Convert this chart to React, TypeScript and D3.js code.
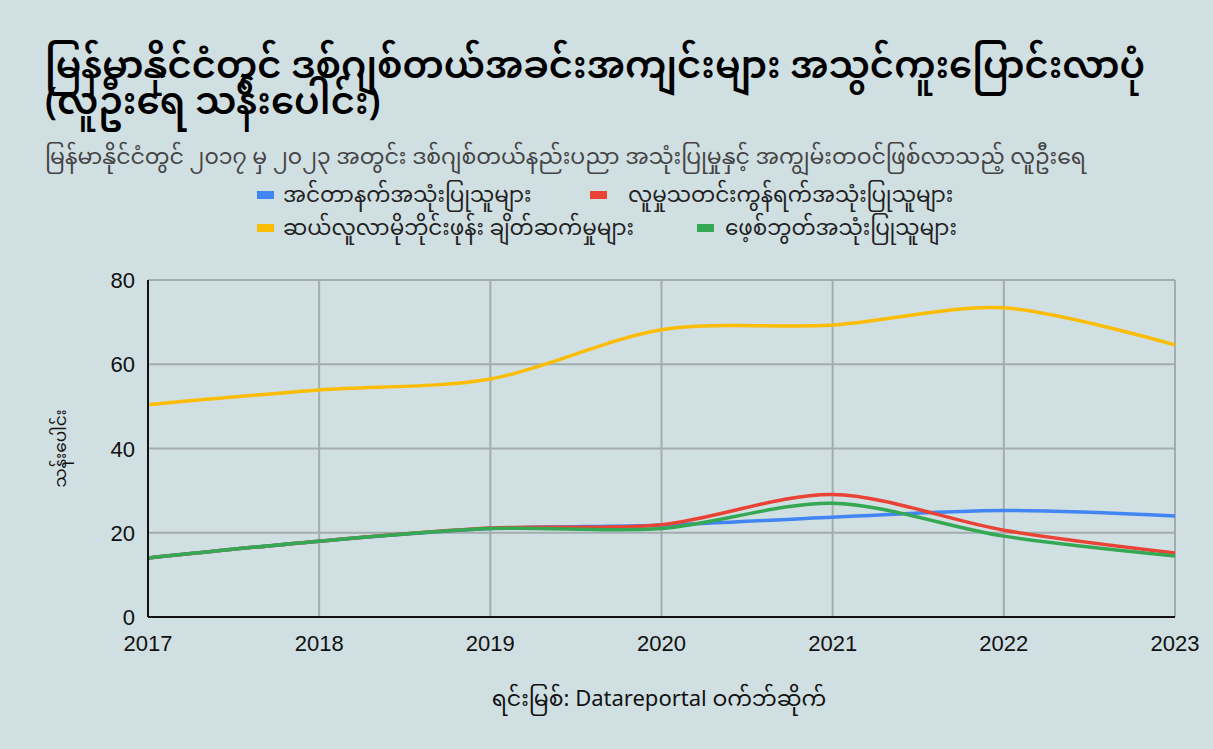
import * as d3 from 'd3'

const years = [2017, 2018, 2019, 2020, 2021, 2022, 2023]
const internetUsers = [14, 18, 21, 21.8, 23.7, 25.3, 24]
const socialUsers = [14, 18, 21.1, 21.9, 29.1, 20.6, 15.2]
const mobileConnections = [50.4, 53.9, 56.5, 68.2, 69.3, 73.4, 64.6]
const facebookUsers = [14, 18, 21, 21, 27, 19.2, 14.5]
const yTicks = [0, 20, 40, 60, 80]

const seriesNames = [
  'အင်တာနက်အသုံးပြုသူများ',
  'လူမှုသတင်းကွန်ရက်အသုံးပြုသူများ',
  'ဆယ်လူလာမိုဘိုင်းဖုန်း ချိတ်ဆက်မှုများ',
  'ဖေ့စ်ဘွတ်အသုံးပြုသူများ',
]
const colors = ['#4285f4', '#ea4335', '#fbbc04', '#34a853']

const title1 = 'မြန်မာနိုင်ငံတွင် ဒစ်ဂျစ်တယ်အခင်းအကျင်းများ အသွင်ကူးပြောင်းလာပုံ'
const title2 = '(လူဦးရေ သန်းပေါင်း)'
const subtitle = 'မြန်မာနိုင်ငံတွင် ၂၀၁၇ မှ ၂၀၂၃ အတွင်း ဒစ်ဂျစ်တယ်နည်းပညာ အသုံးပြုမှုနှင့် အကျွမ်းတဝင်ဖြစ်လာသည့် လူဦးရေ'
const yLabel = 'သန်းပေါင်း'
const source = 'ရင်းမြစ်: Datareportal ဝက်ဘ်ဆိုက်'

const W = 1213
const H = 749
const font = '"Noto Sans Myanmar", "Padauk", "Myanmar Text", "Noto Sans", "Liberation Sans", sans-serif'
const numFont = '"Liberation Sans", Arial, sans-serif'

export default function App() {
  const margin = { left: 148, right: 38, top: 280, bottom: 132 }
  const x = d3.scaleLinear().domain([2017, 2023]).range([margin.left, W - margin.right])
  const y = d3.scaleLinear().domain([0, 80]).range([H - margin.bottom, margin.top])

  const data = [internetUsers, socialUsers, mobileConnections, facebookUsers]
  const line = d3
    .line<number>()
    .x((_, i) => x(years[i]))
    .y(d => y(d))
    .curve(d3.curveCardinal.tension(0.1))

  // google-style two-row legend
  const legend = [
    { i: 0, sx: 257, tx: 283, ty: 202 },
    { i: 1, sx: 590, tx: 628, ty: 202 },
    { i: 2, sx: 257, tx: 283, ty: 235 },
    { i: 3, sx: 697, tx: 725, ty: 235 },
  ]

  return (
    <svg width={W} height={H} style={{ display: 'block', position: 'absolute', left: 0, top: 0 }}>
      <rect width={W} height={H} fill="#d0dfe2" />
      <text x={45} y={78} fontFamily={font} fontSize={37} fontWeight={600} fill="#000">{title1}</text>
      <text x={45} y={114} fontFamily={font} fontSize={37} fontWeight={600} fill="#000">{title2}</text>
      <text x={45} y={164} fontFamily={font} fontSize={22} fill="#444">{subtitle}</text>

      {legend.map(l => (
        <g key={l.i}>
          <rect x={l.sx} y={l.ty - 11} width={17} height={8} fill={colors[l.i]} />
          <text x={l.tx} y={l.ty} fontFamily={font} fontSize={21.5} fill="#222">{seriesNames[l.i]}</text>
        </g>
      ))}

      {/* grid */}
      {years.map(yr => (
        <line key={yr} x1={x(yr)} x2={x(yr)} y1={y(80)} y2={y(0)} stroke="#a4adae" strokeWidth={2} />
      ))}
      {yTicks.map(t => (
        <line key={t} x1={x(2017)} x2={x(2023)} y1={y(t)} y2={y(t)} stroke="#a4adae" strokeWidth={2} />
      ))}

      {data.map((d, i) => (
        <path key={i} d={line(d) ?? ''} fill="none" stroke={colors[i]} strokeWidth={3.5} strokeLinejoin="round" />
      ))}

      <line x1={x(2017)} x2={x(2017)} y1={y(80)} y2={y(0)} stroke="#111" strokeWidth={2} />
      <line x1={x(2017)} x2={x(2023)} y1={y(0)} y2={y(0)} stroke="#111" strokeWidth={2} />

      {yTicks.map(t => (
        <text key={t} x={x(2017) - 13} y={y(t) + 8} textAnchor="end" fontFamily={numFont} fontSize={22} fill="#111">{t}</text>
      ))}
      {years.map(yr => (
        <text key={yr} x={x(yr)} y={y(0) + 34} textAnchor="middle" fontFamily={numFont} fontSize={22} fill="#111">{yr}</text>
      ))}

      <text transform={`translate(66,${(y(0) + y(80)) / 2}) rotate(-90)`} textAnchor="middle" fontFamily={font} fontSize={17} fill="#111">{yLabel}</text>
      <text x={659} y={706} textAnchor="middle" fontFamily={font} fontSize={22} fill="#111">{source}</text>
    </svg>
  )
}
